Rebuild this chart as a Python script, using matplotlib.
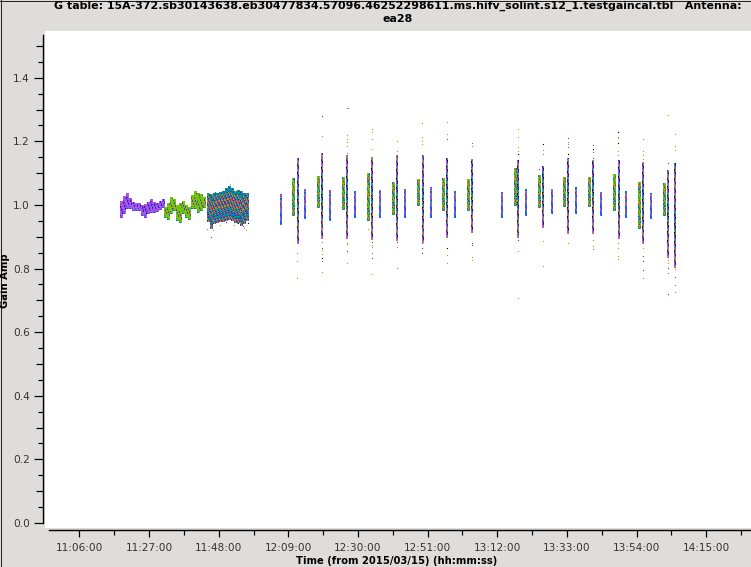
import matplotlib
matplotlib.use('Agg')
import matplotlib.pyplot as plt
from matplotlib.lines import Line2D
from matplotlib.ticker import FuncFormatter, MultipleLocator

# Minuten seit Mitternacht
scan_time = [726.6, 730.4, 731.6, 734.0, 737.9, 739.1, 741.5, 745.4, 746.6, 749.0, 753.0, 754.2,
             756.6, 760.5, 761.7, 764.1, 768.1, 769.3, 771.7, 775.6, 776.8, 779.2, 783.1, 784.3,
             793.4, 797.3, 798.2, 800.6, 804.5, 805.7, 808.2, 812.1, 813.3, 815.7, 819.6, 820.8,
             823.2, 827.2, 828.4, 830.8, 834.7, 835.9, 838.3, 842.2, 843.4, 845.5]
scan_high = [1.035, 1.085, 1.148, 1.050, 1.091, 1.164, 1.047, 1.088, 1.157, 1.044, 1.101, 1.151,
             1.047, 1.072, 1.157, 1.050, 1.082, 1.157, 1.057, 1.085, 1.148, 1.044, 1.082, 1.145,
             1.041, 1.116, 1.142, 1.050, 1.094, 1.123, 1.050, 1.088, 1.148, 1.057, 1.088, 1.142,
             1.041, 1.097, 1.142, 1.044, 1.072, 1.135, 1.038, 1.069, 1.110, 1.132]
scan_low = [0.940, 0.969, 0.880, 0.959, 0.994, 0.896, 0.953, 0.987, 0.896, 0.962, 0.953, 0.893,
            0.962, 0.972, 0.890, 0.962, 1.000, 0.884, 0.962, 0.984, 0.899, 0.962, 0.984, 0.915,
            0.962, 1.000, 0.899, 0.969, 0.994, 0.931, 0.975, 0.997, 0.912, 0.975, 0.997, 0.912,
            0.969, 0.984, 0.896, 0.962, 0.928, 0.880, 0.959, 0.969, 0.836, 0.805]
scan_kind = ['n', 'w', 't', 'n', 'w', 't', 'n', 'w', 't', 'n', 'w', 't',
             'n', 'w', 't', 'n', 'w', 't', 'n', 'w', 't', 'n', 'w', 't',
             'n', 'w', 't', 'n', 'w', 't', 'n', 'w', 't', 'n', 'w', 't',
             'n', 'w', 't', 'n', 'w', 't', 'n', 'w', 't', 't']

purple_time = [678.5, 679.4, 680.3, 681.2, 682.1, 683.0, 683.9, 684.8, 685.7, 686.7, 687.6, 688.5, 689.4, 690.3, 691.2]
purple_high = [1.014, 1.028, 1.037, 1.021, 1.009, 1.007, 1.005, 1.000, 1.002, 1.010, 1.018, 1.010, 1.007, 1.014, 1.018]
purple_low = [0.961, 0.976, 0.992, 0.990, 0.984, 0.984, 0.984, 0.969, 0.963, 0.974, 0.979, 0.979, 0.982, 0.986, 0.995]

green_time = [691.8, 692.7, 693.6, 694.5, 695.4, 696.3, 697.2, 698.1, 699.0, 699.9, 700.8, 701.7, 702.6, 703.5]
green_high = [0.995, 1.007, 1.026, 1.018, 1.000, 1.005, 1.014, 1.000, 0.995, 1.032, 1.044, 1.039, 1.034, 1.024]
green_low = [0.961, 0.955, 0.974, 0.984, 0.953, 0.948, 0.974, 0.963, 0.955, 0.990, 0.990, 0.979, 0.984, 0.993]

teal_time = [704.7, 705.6, 706.6, 707.5, 708.4, 709.3, 710.2, 711.1, 712.0, 712.9, 713.8, 714.7, 715.6, 716.5]
teal_high = [1.039, 1.035, 1.039, 1.037, 1.040, 1.045, 1.052, 1.060, 1.052, 1.045, 1.047, 1.045, 1.039, 1.037]
teal_low = [0.951, 0.927, 0.942, 0.948, 0.950, 0.951, 0.953, 0.955, 0.953, 0.948, 0.948, 0.937, 0.944, 0.953]

# Ausreisser nach Farbe
out_green_t = [731.6, 739.1, 739.1, 739.1, 746.6, 746.6, 746.6, 746.6, 746.6, 746.6, 754.2, 754.2, 754.2, 753.0,
               754.2, 754.2, 754.2, 769.3, 769.3, 769.3, 776.8, 776.8, 776.8, 776.8, 784.3, 784.3, 798.2, 798.2,
               798.2, 798.2, 798.2, 798.2, 798.2, 805.7, 805.7, 805.7, 813.3, 813.3, 813.3, 820.8, 828.4, 828.4,
               828.4, 828.4, 828.4, 828.4, 835.9, 835.9, 843.4, 843.4, 845.5, 845.5, 845.5, 716.2, 708.4, 713.4, 711.4]
out_green_g = [0.823, 1.157, 0.857, 0.823, 1.304, 1.219, 1.206, 1.197, 0.881, 0.816, 1.238, 1.231, 1.175, 0.923,
               0.873, 0.867, 0.782, 1.213, 1.200, 1.191, 1.260, 1.222, 0.842, 0.816, 1.184, 0.826, 1.238, 1.213,
               1.181, 1.171, 0.854, 0.706, 0.911, 1.173, 0.886, 0.807, 1.197, 1.191, 0.879, 0.870, 1.213, 1.209,
               1.171, 1.156, 0.864, 0.838, 1.143, 0.864, 1.282, 0.816, 1.222, 1.173, 0.798, 0.920, 0.937, 0.942, 1.065]
out_orange_t = [731.6, 739.1, 739.1, 739.1, 746.6, 746.6, 754.2, 761.7, 761.7, 761.7, 761.7, 769.3, 784.3, 820.8,
                828.4, 828.4, 835.9, 835.9, 835.9, 835.9, 843.4, 845.5, 845.5, 704.5, 706.4, 712.6, 715.6]
out_orange_g = [0.769, 1.216, 0.845, 0.790, 1.184, 0.876, 1.206, 1.200, 1.171, 1.156, 0.867, 1.257, 0.835, 0.889,
                0.879, 0.829, 1.206, 1.169, 1.156, 0.769, 0.826, 1.184, 0.725, 0.923, 0.921, 0.936, 0.927]
out_magenta_t = [739.1, 739.1, 746.6, 754.2, 754.2, 761.7, 769.3, 769.3, 776.8, 784.3, 798.2, 804.5, 813.3, 835.9, 843.4, 710.2]
out_magenta_g = [1.279, 0.866, 0.854, 0.885, 0.832, 0.885, 0.864, 0.848, 1.206, 0.881, 0.890, 1.112, 1.209, 0.823, 0.719, 0.945]
out_purple_t = [731.6, 739.1, 746.6, 754.2, 761.7, 784.3, 805.7, 820.8, 820.8, 843.4, 845.5, 747.0, 705.3]
out_purple_g = [0.848, 0.885, 1.162, 0.848, 0.801, 1.194, 1.159, 1.165, 0.861, 0.785, 0.747, 1.305, 0.927]
out_black_t = [739.1, 776.8, 798.2, 805.7, 813.3, 820.8, 828.4, 828.4, 713.9, 716.9]
out_black_g = [0.832, 0.864, 1.159, 1.191, 1.159, 1.175, 1.231, 1.194, 0.942, 0.942]
out_blue_t = [769.3, 784.3, 813.3, 820.8, 820.8, 835.9, 835.9, 843.4, 843.4, 845.5, 798.2, 705.8, 706.9, 715.4]
out_blue_g = [0.881, 0.873, 1.181, 1.187, 1.147, 0.794, 0.838, 1.131, 0.801, 0.772, 0.890, 0.898, 1.040, 0.935]

BG = '#dfdddc'
PURPLE = '#a05ce0'
GREEN = '#70c800'
BLUE = '#0064ff'
ORANGE = '#e08000'
TEAL = '#009090'
MAGENTA = '#e00090'
MGREEN = '#00c040'
VIOLET = '#6a00e0'
BLACK = '#000000'

PX = 0.72   # 1 Pixel in Punkt bei dpi 100
MIN_PER_PX = 0.3015


def draw_columns(ax, times, lows, highs, layers, cols):
    # jede Schicht ist (Farbe, an, aus, Versatz) in Pixeln
    for c in cols:
        x = [t + c * MIN_PER_PX for t in times]
        for i, (color, on, off, start) in enumerate(layers):
            style = 'solid' if off == 0 else (start + c * 3, (on, off))
            ax.vlines(x, lows, highs, colors=color, linewidth=1.0 * PX, linestyles=style,
                      antialiased=False, capstyle='butt', zorder=2 + i * 0.01)


def draw_points(ax, t, g, color):
    ax.plot(t, g, linestyle='none', marker='s', markersize=1.1 * PX, markeredgewidth=0,
            color=color, antialiased=False, zorder=3)


layers_wide = [(GREEN, 1, 0, 0), (ORANGE, 2, 5, 0), (BLACK, 1, 8, 2), (MAGENTA, 1, 7, 4), (BLUE, 2, 9, 1), (MGREEN, 2, 6, 3)]
layers_tall = [(BLUE, 1, 0, 0), (PURPLE, 3, 5, 0), (ORANGE, 2, 7, 2), (TEAL, 2, 6, 4), (BLACK, 1, 9, 3), (MGREEN, 1, 8, 1), (VIOLET, 2, 7, 5)]
layers_narrow = [(PURPLE, 1, 0, 0), (BLUE, 4, 5, 0), (TEAL, 2, 7, 3), (ORANGE, 1, 9, 2), (MAGENTA, 1, 11, 5)]
layers_purple = [(PURPLE, 1, 0, 0), (BLUE, 1, 9, 0), (MGREEN, 1, 11, 4), (MAGENTA, 1, 13, 2), (VIOLET, 2, 11, 6)]
layers_green = [(GREEN, 1, 0, 0), (TEAL, 1, 9, 0), (ORANGE, 1, 11, 3), (MAGENTA, 1, 13, 6), (BLUE, 1, 10, 2)]
layers_teal = [(TEAL, 1, 0, 0), (ORANGE, 2, 5, 0), (BLUE, 2, 6, 3), (MGREEN, 1, 7, 2), (MAGENTA, 1, 9, 5), (VIOLET, 1, 8, 1)]

fig = plt.figure(figsize=(7.51, 5.67), dpi=100, facecolor=BG)
ax = fig.add_axes([45 / 751, 1 - 528 / 567, 706 / 751, 497 / 567], facecolor='white')

draw_columns(ax, purple_time, purple_low, purple_high, layers_purple, (-1, 0, 1))
draw_columns(ax, green_time, green_low, green_high, layers_green, (-1, 0, 1))
draw_columns(ax, teal_time, teal_low, teal_high, layers_teal, (-1, 0, 1))

for kind, layers, cols in (('w', layers_wide, (-1, 0, 1)), ('t', layers_tall, (-0.5, 0.5)), ('n', layers_narrow, (-0.5, 0.5))):
    t = [v for v, k in zip(scan_time, scan_kind) if k == kind]
    lo = [v for v, k in zip(scan_low, scan_kind) if k == kind]
    hi = [v for v, k in zip(scan_high, scan_kind) if k == kind]
    draw_columns(ax, t, lo, hi, layers, cols)

draw_points(ax, out_green_t, out_green_g, GREEN)
draw_points(ax, out_orange_t, out_orange_g, ORANGE)
draw_points(ax, out_magenta_t, out_magenta_g, MAGENTA)
draw_points(ax, out_purple_t, out_purple_g, PURPLE)
draw_points(ax, out_black_t, out_black_g, BLACK)
draw_points(ax, out_blue_t, out_blue_g, BLUE)

ax.set_xlim(655.6, 868.5)
ax.set_ylim(-0.0157, 1.547)

for side in ('top', 'right'):
    ax.spines[side].set_visible(False)
ax.spines['left'].set_position(('outward', 2 * PX))
ax.spines['bottom'].set_position(('outward', 2 * PX))
ax.spines['left'].set_bounds(0.0, 1.535)
ax.spines['bottom'].set_bounds(656.8, 868.5)
ax.spines['left'].set_linewidth(1.4 * PX)
ax.spines['bottom'].set_linewidth(1.4 * PX)


def hhmmss(v, pos):
    m = int(round(v))
    return f'{m // 60:02d}:{m % 60:02d}:00'


ax.xaxis.set_major_locator(MultipleLocator(21, offset=15))
ax.xaxis.set_minor_locator(MultipleLocator(10.5, offset=4.5))
ax.xaxis.set_major_formatter(FuncFormatter(hhmmss))
ax.tick_params(axis='x', which='major', length=7 * PX, width=1.2 * PX, labelsize=7.6, pad=4.5, labelcolor='#333333')
ax.tick_params(axis='x', which='minor', length=5 * PX, width=1.2 * PX)

ax.yaxis.set_major_locator(MultipleLocator(0.1))
ax.yaxis.set_minor_locator(MultipleLocator(0.05))
ax.yaxis.set_major_formatter(FuncFormatter(lambda v, pos: f'{v:.1f}' if round(v * 10) % 2 == 0 else ''))
ax.tick_params(axis='y', which='major', length=9 * PX, width=1.2 * PX, labelsize=7.6, pad=3, labelcolor='#333333')
ax.tick_params(axis='y', which='minor', length=5 * PX, width=1.2 * PX)
fig.canvas.draw()
for v, tick in zip(ax.yaxis.get_majorticklocs(), ax.yaxis.get_major_ticks()):
    if round(v * 10) % 2 == 1:
        tick.tick1line.set_markersize(7 * PX)

fig.text(397 / 751, 1 - 561.5 / 567, 'Time (from 2015/03/15) (hh:mm:ss)', ha='center', va='center',
         fontsize=7.2, fontweight='bold')
fig.text(5.5 / 751, 1 - 281 / 567, 'Gain Amp', ha='center', va='center', rotation=90,
         fontsize=7.2, fontweight='bold')
fig.text(397.5 / 751, 1 - 6 / 567,
         'G table: 15A-372.sb30143638.eb30477834.57096.46252298611.ms.hifv_solint.s12_1.testgaincal.tbl   Antenna:',
         ha='center', va='center', fontsize=7.9, fontweight='bold')
fig.text(397.5 / 751, 1 - 19 / 567, 'ea28', ha='center', va='center', fontsize=7.9, fontweight='bold')

# dunkle Kante links und oben
fig.add_artist(Line2D([0.5 / 751, 0.5 / 751], [0, 1], color='#222222', lw=1 * PX))
fig.add_artist(Line2D([0, 1], [1 - 0.5 / 567, 1 - 0.5 / 567], color='#222222', lw=1 * PX))

fig.savefig('out.png', dpi=100, facecolor=BG)
